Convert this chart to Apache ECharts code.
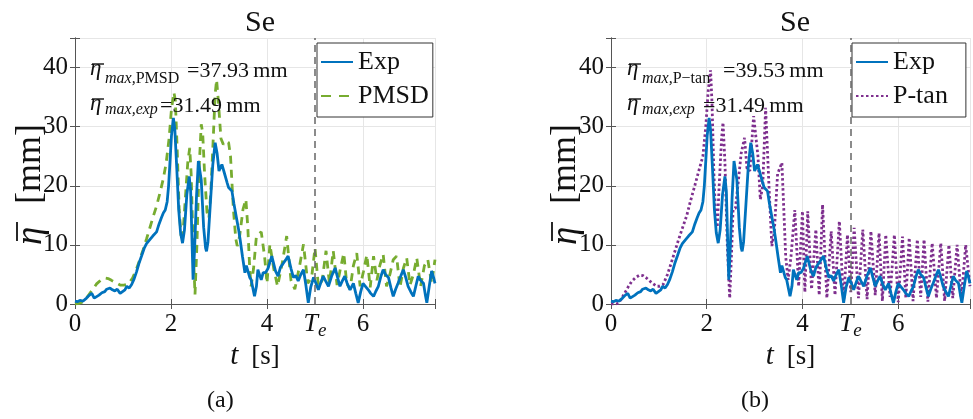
<!DOCTYPE html>
<html>
<head>
<meta charset="utf-8">
<script src="https://cdn.jsdelivr.net/npm/echarts@6/dist/echarts.min.js"></script>
<style>
  html, body { margin: 0; padding: 0; background: #fff; }
  #chart { width: 973px; height: 419px; }
</style>
</head>
<body>
<div id="chart"></div>
<script>
// Wave elevation over time, experiment vs. two models
const expT = [0.00,0.05,0.10,0.17,0.24,0.30,0.35,0.40,0.44,0.50,0.56,0.62,0.66,0.70,0.73,0.78,0.83,0.88,0.94,0.98,
  1.04,1.08,1.13,1.18,1.23,1.28,1.33,1.39,1.44,1.49,1.55,1.62,1.70,1.75,1.80,1.84,1.88,1.92,1.95,1.98,
  2.01,2.05,2.08,2.12,2.16,2.20,2.24,2.28,2.33,2.38,2.41,2.44,2.46,2.49,2.53,2.57,2.60,2.63,2.68,2.72,
  2.74,2.77,2.82,2.87,2.92,2.96,3.00,3.03,3.06,3.10,3.13,3.17,3.20,3.24,3.27,3.31,3.37,3.41,3.44,3.49,
  3.54,3.57,3.60,3.64,3.67,3.71,3.74,3.78,3.81,3.85,3.88,3.92,3.97,4.02,4.06,4.10,4.13,4.18,4.23,4.28,
  4.34,4.40,4.44,4.50,4.55,4.60,4.65,4.70,4.76,4.81,4.86,4.91,4.97,5.02,5.07,5.12,5.17,5.22,5.28,5.35,
  5.42,5.47,5.52,5.57,5.62,5.67,5.73,5.80,5.85,5.90,5.95,6.00,6.05,6.11,6.16,6.22,6.27,6.32,6.37,6.42,
  6.47,6.53,6.58,6.63,6.68,6.73,6.79,6.84,6.89,6.94,7.00,7.05,7.10,7.15,7.20,7.26,7.30,7.33,7.38,7.43,
  7.47,7.50];
const expV = [0.5,0.4,0.6,0.5,1.0,1.5,1.8,1.0,0.7,1.5,1.9,2.1,2.5,2.3,2.7,2.4,2.2,2.5,1.8,1.6,
  2.4,3.0,2.7,3.3,4.2,5.4,6.8,8.2,9.4,10.2,10.8,11.5,12.2,13.5,14.6,15.4,15.9,17.3,20.0,24.2,
  28.5,31.49,29.5,23.0,16.0,12.0,10.3,12.5,18.5,21.6,19.0,10.0,4.1,9.0,18.0,24.2,24.5,21.0,13.0,9.5,
  8.9,10.5,17.0,23.5,27.3,25.5,22.5,22.8,23.6,22.5,22.2,20.5,19.7,19.5,19.1,17.0,14.3,12.5,10.9,8.0,
  5.3,6.5,6.4,4.5,4.1,2.5,1.3,3.0,5.8,4.8,4.1,5.3,5.3,6.0,5.8,8.1,8.1,5.5,4.7,6.2,
  6.9,7.6,8.1,6.0,4.5,4.8,3.9,4.9,5.8,3.2,0.2,2.8,4.5,3.5,2.4,3.6,4.7,3.9,3.0,4.8,
  6.1,4.5,3.0,3.9,4.7,3.5,2.4,3.5,1.8,0.2,2.0,3.5,3.0,2.4,1.8,1.3,2.2,3.0,4.6,5.8,
  5.0,4.5,2.8,1.3,2.5,3.5,4.8,5.8,4.5,3.0,2.0,1.3,3.0,4.7,4.0,3.5,1.5,0.2,3.0,5.6,
  4.5,3.5];

const pmsdT = [0.00,0.08,0.17,0.24,0.31,0.38,0.45,0.53,0.62,0.69,0.76,0.85,0.94,1.02,1.11,1.20,1.28,1.35,1.42,1.49,
  1.56,1.63,1.70,1.77,1.84,1.90,1.96,2.01,2.06,2.09,2.13,2.17,2.21,2.25,2.30,2.35,2.39,2.42,2.46,2.50,
  2.54,2.58,2.63,2.66,2.70,2.75,2.79,2.83,2.88,2.92,2.95,2.99,3.04,3.09,3.15,3.20,3.24,3.30,3.35,3.38,
  3.43,3.50,3.56,3.60,3.64,3.67,3.72,3.78,3.88,3.95,4.00,4.06,4.14,4.22,4.32,4.41,4.50,4.58,4.68,4.76,
  4.85,4.93,5.00,5.07,5.15,5.23,5.30,5.38,5.46,5.53,5.60,5.66,5.73,5.80,5.87,5.94,6.01,6.08,6.15,6.22,
  6.29,6.35,6.42,6.49,6.56,6.63,6.70,6.77,6.84,6.91,6.98,7.05,7.12,7.20,7.28,7.35,7.43,7.50];
const pmsdV = [0.0,0.1,0.4,1.0,1.8,2.6,3.4,4.0,4.4,4.3,4.0,3.6,3.2,3.2,3.4,4.4,5.9,7.5,9.2,11.0,
  12.9,14.8,16.6,18.8,21.2,23.9,28.0,33.0,35.8,34.5,26.0,16.0,11.5,12.0,18.0,24.0,26.4,22.0,10.0,1.6,
  10.0,22.0,30.4,29.0,22.0,15.5,14.5,19.0,28.0,35.5,37.93,34.0,28.0,27.0,27.6,27.3,25.0,16.0,11.0,9.8,
  11.5,16.0,17.7,13.0,6.0,3.0,6.0,11.5,12.2,8.0,3.5,10.1,6.0,3.0,7.0,11.5,4.0,2.5,6.5,10.1,
  3.5,4.5,9.5,3.0,4.0,9.0,3.5,9.0,3.2,6.0,8.6,3.5,2.5,6.5,8.6,3.0,5.5,8.3,2.8,8.1,
  4.0,6.5,8.4,3.0,5.0,7.5,8.1,2.8,6.0,7.8,3.2,5.0,7.8,3.0,6.5,7.5,3.5,7.5];

const ptanT = [0.00,0.08,0.15,0.22,0.29,0.36,0.43,0.52,0.60,0.67,0.74,0.85,0.95,1.02,1.09,1.18,1.26,1.33,1.40,1.49,
  1.58,1.66,1.75,1.83,1.92,1.98,2.03,2.08,2.11,2.15,2.19,2.22,2.26,2.31,2.34,2.38,2.43,2.48,2.52,2.55,
  2.60,2.65,2.72,2.79,2.84,2.90,2.98,3.07,3.12,3.17,3.23,3.30,3.36,3.41,3.48,3.57,3.65,3.70,3.76,3.84,
  3.92,4.00,4.05,4.11,4.19,4.28,4.35,4.42,4.51,4.60,4.68,4.77,4.86,4.94,5.01,5.08,5.17,5.26,5.35,5.43,
  5.52,5.60,5.67,5.74,5.83,5.92,6.00,6.09,6.16,6.23,6.31,6.40,6.47,6.54,6.62,6.71,6.80,6.89,6.97,7.06,
  7.14,7.23,7.32,7.41,7.50];
const ptanV = [0.0,0.0,0.1,0.9,1.9,2.9,3.8,4.5,4.9,4.8,4.4,3.6,3.0,3.0,3.3,5.0,7.0,8.8,10.6,12.8,
  14.9,17.4,20.0,22.4,25.0,30.0,36.0,39.53,34.0,22.0,14.0,13.0,20.0,28.0,30.7,24.0,10.0,1.0,9.0,16.0,
  16.2,20.0,25.5,28.1,23.0,22.5,31.8,25.0,17.7,20.0,33.2,20.0,9.8,12.0,22.0,23.9,8.0,4.1,8.0,15.9,
  3.0,15.7,2.0,15.7,2.5,12.6,1.5,16.8,1.0,12.3,1.5,14.0,0.5,11.7,2.0,12.9,1.0,12.6,0.8,12.3,
  1.5,12.0,0.5,11.7,1.2,11.7,0.3,11.4,1.0,11.2,0.5,10.9,1.2,10.9,0.4,10.3,1.0,10.3,0.5,10.0,
  1.0,10.0,0.8,10.0,3.0];

const xTicks = [0, 2, 4, 6];
const yTicks = [0, 10, 20, 30, 40];
const tEnd = 5;
const legendA = ['Exp', 'PMSD'];
const legendB = ['Exp', 'P-tan'];
const modelA = 'PMSD', peakA = '37.93';
const modelB = 'P\u2212tan', peakB = '39.53';
const peakExp = '31.49';

const pairs = (t, v) => t.map((x, i) => [x, v[i]]);

const FONT = 'Liberation Serif';
const INK = '#111';
const AXIS_COLOR = '#555';
const GRID_COLOR = '#e6e6e6';
const BLUE = '#0072BD', GREEN = '#77AC30', PURPLE = '#7E2F8E';
const DASH = [8, 6], DOT = [2.5, 2.5];

const grids = [
  { left: 75, top: 38, width: 360, height: 266 },
  { left: 611, top: 38, width: 359, height: 266 }
];

function xAxes(gi) {
  const base = { gridIndex: gi, type: 'value', min: 0, max: 7.5, interval: 2 };
  return [
    Object.assign({}, base, {
      position: 'bottom',
      axisLine: { show: true, lineStyle: { color: AXIS_COLOR, width: 1 } },
      axisTick: { show: true, inside: true, length: 5, lineStyle: { color: AXIS_COLOR } },
      axisLabel: { color: INK, fontFamily: FONT, fontSize: 25, margin: 8,
        formatter: v => (xTicks.includes(v) ? String(v) : '') },
      splitLine: { show: true, lineStyle: { color: GRID_COLOR, width: 1 } },
      name: '{i|t}{r|[s]}', nameLocation: 'middle', nameGap: 38,
      nameTextStyle: { rich: {
        i: { fontFamily: FONT, fontStyle: 'italic', fontSize: 29, color: INK, padding: [0, 13, 0, 0] },
        r: { fontFamily: FONT, fontSize: 27, color: INK } } }
    }),
    Object.assign({}, base, {
      position: 'top',
      axisLine: { show: true, lineStyle: { color: AXIS_COLOR, width: 1 } },
      axisTick: { show: true, inside: true, length: 5, lineStyle: { color: AXIS_COLOR } },
      axisLabel: { show: false }, splitLine: { show: false }
    })
  ];
}

function yAxes(gi) {
  const base = { gridIndex: gi, type: 'value', min: 0, max: 45, interval: 10 };
  return [
    Object.assign({}, base, {
      position: 'left',
      axisLine: { show: true, lineStyle: { color: AXIS_COLOR, width: 1 } },
      axisTick: { show: true, inside: true, length: 5, lineStyle: { color: AXIS_COLOR } },
      axisLabel: { color: INK, fontFamily: FONT, fontSize: 25, margin: 7,
        formatter: v => (yTicks.includes(v) ? String(v) : '') },
      splitLine: { show: true, lineStyle: { color: GRID_COLOR, width: 1 } }
    }),
    Object.assign({}, base, {
      position: 'right',
      axisLine: { show: true, lineStyle: { color: AXIS_COLOR, width: 1 } },
      axisTick: { show: true, inside: true, length: 5, lineStyle: { color: AXIS_COLOR } },
      axisLabel: { show: false }, splitLine: { show: false }
    })
  ];
}

const teMarkLine = {
  silent: true, symbol: 'none', animation: false,
  lineStyle: { color: '#666', type: [7, 5], width: 1.5 },
  label: { show: true, position: 'start', distance: 5,
    formatter: '{t|T}{e|e}',
    rich: {
      t: { fontFamily: FONT, fontStyle: 'italic', fontSize: 26, color: INK },
      e: { fontFamily: FONT, fontStyle: 'italic', fontSize: 19, color: INK, verticalAlign: 'bottom', padding: [12, 0, 0, 0] }
    } },
  data: [{ xAxis: tEnd }]
};

function lineSeries(name, data, gi, color, type, extra) {
  return Object.assign({
    name, type: 'line', data, xAxisIndex: gi * 2, yAxisIndex: gi * 2,
    symbol: 'none', animation: false,
    lineStyle: { color, width: 2.8, type, cap: 'butt' },
    itemStyle: { color }
  }, extra || {});
}

function legend(items, left, padding) {
  return {
    data: items, orient: 'vertical', left, top: 43,
    backgroundColor: '#fff', borderColor: '#333', borderWidth: 1, borderRadius: 0,
    padding, itemGap: 8, itemWidth: 32, itemHeight: 14,
    itemStyle: { color: 'rgba(0,0,0,0)', borderWidth: 0 },
    textStyle: { fontFamily: FONT, fontSize: 26, color: INK },
    selectedMode: false
  };
}

function txt(x, y, text, font, extra) {
  return Object.assign({ type: 'text', x, y, z: 100, silent: true,
    style: { text, font, fill: INK, align: 'left', verticalAlign: 'middle' } }, extra || {});
}
function bar(x1, x2, y) {
  return { type: 'line', z: 100, silent: true, shape: { x1, y1: y, x2, y2: y }, style: { stroke: INK, lineWidth: 1.4 } };
}
function subText(x, y, parts) {
  return { type: 'text', x, y, z: 100, silent: true,
    style: { text: parts.map(p => '{' + p[0] + '|' + p[1] + '}').join(''), verticalAlign: 'middle', align: 'left',
      rich: {
        it: { fontFamily: FONT, fontStyle: 'italic', fontSize: 16, fill: INK },
        rm: { fontFamily: FONT, fontSize: 16, fill: INK }
      } } };
}
// Peak annotation: eta-bar, subscript, value
function annotation(x0, model, peak, eqA, eqB) {
  const ETA = 'italic 23px "Liberation Serif"';
  const NUM = '22px "Liberation Serif"';
  return [
    txt(x0, 69, '\u03B7', ETA), bar(x0 + 2, x0 + 14, 64),
    subText(x0 + 15, 79, [['it', 'max,'], ['rm', model]]),
    txt(eqA, 71, '=' + peak + '\u2009mm', NUM),
    txt(x0, 104, '\u03B7', ETA), bar(x0 + 2, x0 + 14, 99),
    subText(x0 + 15, 110, [['it', 'max,exp']]),
    txt(eqB, 106, '=' + peakExp + '\u2009mm', NUM)
  ];
}
// Rotated axis title: eta-bar [mm]
function yName(x, y) {
  return { type: 'group', x, y, rotation: Math.PI / 2, silent: true, children: [
    { type: 'text', x: 0, y: 0, style: { text: '\u03B7', font: 'italic 37px "Liberation Serif"', fill: INK, verticalAlign: 'middle', align: 'left' } },
    { type: 'line', shape: { x1: 4, y1: -14, x2: 23, y2: -14 }, style: { stroke: INK, lineWidth: 1.8 } },
    { type: 'text', x: 41, y: 0, style: { text: '[mm]', font: '36px "Liberation Serif"', fill: INK, verticalAlign: 'middle', align: 'left' } }
  ] };
}

const titleStyle = { fontFamily: FONT, fontSize: 30, fontWeight: 'normal', color: INK };

const option = {
  backgroundColor: '#fff',
  animation: false,
  textStyle: { fontFamily: FONT },
  title: [
    { text: 'Se', left: 255, top: 3, textAlign: 'center', textStyle: titleStyle },
    { text: 'Se', left: 790, top: 3, textAlign: 'center', textStyle: titleStyle }
  ],
  grid: grids,
  xAxis: [...xAxes(0), ...xAxes(1)],
  yAxis: [...yAxes(0), ...yAxes(1)],
  legend: [
    legend([legendA[0], { name: legendA[1], lineStyle: { type: [10, 8] } }], 317, [6, 4, 8, 3]),
    legend([legendB[0], legendB[1]], 852, [6, 18, 8, 3])
  ],
  series: [
    lineSeries('PMSD', pairs(pmsdT, pmsdV), 0, GREEN, DASH, { markLine: teMarkLine }),
    lineSeries('Exp', pairs(expT, expV), 0, BLUE, 'solid'),
    lineSeries('P-tan', pairs(ptanT, ptanV), 1, PURPLE, DOT, { markLine: teMarkLine }),
    lineSeries('Exp', pairs(expT, expV), 1, BLUE, 'solid')
  ],
  graphic: [
    ...annotation(90, modelA, peakA, 187, 160),
    ...annotation(627, modelB, peakB, 723, 703),
    yName(31, 245),
    yName(566, 245),
    txt(207, 401, '(a)', '24px "Liberation Serif"'),
    txt(741, 401, '(b)', '24px "Liberation Serif"')
  ]
};

echarts.init(document.getElementById('chart'), null, { renderer: 'canvas' }).setOption(option);
</script>
</body>
</html>
